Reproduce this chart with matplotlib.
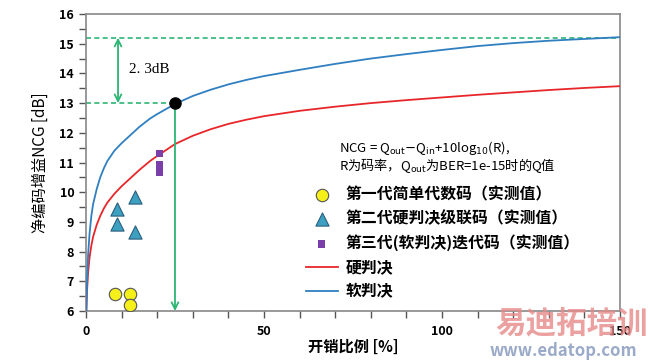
import matplotlib
matplotlib.use("Agg")
import matplotlib.pyplot as plt
from matplotlib.ticker import MultipleLocator

plt.rcParams['font.family'] = ['Noto Sans CJK SC', 'DejaVu Sans']

# curves
soft_x = [0.1, 0.3, 0.6, 1, 1.5, 2, 3, 4, 5, 6, 8, 10, 12, 15, 18, 20, 25, 30, 35, 40, 45, 50, 60, 70, 80,
          90, 100, 110, 120, 130, 140, 150]
soft_y = [6.0, 7.0, 7.9, 8.6, 9.2, 9.6, 10.1, 10.5, 10.8, 11.05, 11.4, 11.65, 11.87, 12.2, 12.48, 12.63,
          12.97, 13.24, 13.45, 13.63, 13.78, 13.91, 14.12, 14.32, 14.5, 14.65, 14.79, 14.92, 15.02, 15.1,
          15.16, 15.22]
hard_x = [0.1, 0.3, 0.6, 1, 1.5, 2, 3, 4, 5, 6, 8, 10, 12, 15, 18, 20, 25, 30, 35, 40, 45, 50, 60, 70, 80,
          90, 100, 110, 120, 130, 140, 150]
hard_y = [6.0, 6.7, 7.3, 7.8, 8.2, 8.5, 8.9, 9.2, 9.45, 9.65, 9.95, 10.2, 10.42, 10.75, 11.05, 11.22,
          11.62, 11.9, 12.12, 12.3, 12.44, 12.56, 12.74, 12.88, 13.0, 13.1, 13.19, 13.28, 13.36, 13.44,
          13.51, 13.57]

# measured codes
gen1_x = [8.1, 12.4, 12.5]
gen1_y = [6.57, 6.57, 6.2]
gen2_x = [8.8, 13.8, 8.8, 13.9]
gen2_y = [9.42, 9.85, 8.92, 8.65]
gen3_x = [20.6, 20.6, 20.6]
gen3_y = [11.31, 10.92, 10.67]

limit_y = 15.2
point_x, point_y = 25, 13.0
gain_label = "2. 3dB"

fig = plt.figure(figsize=(6.48, 3.6), dpi=100)
ax = fig.add_axes([0.1327, 0.1361, 0.8241, 0.825])

green = '#2bb673'
ax.plot(hard_x, hard_y, color='#e8262a', lw=1.3, label='硬判决', zorder=3)
ax.plot(soft_x, soft_y, color='#2f7fc1', lw=1.3, label='软判决', zorder=3)

ax.axhline(limit_y, color=green, ls=(0, (3, 2)), lw=1.2, zorder=2)
ax.plot([0, point_x], [point_y, point_y], color=green, ls=(0, (3, 2)), lw=1.2, zorder=2)
ax.annotate('', xy=(9, limit_y), xytext=(9, point_y),
            arrowprops=dict(arrowstyle='<->', color=green, lw=1.3, mutation_scale=12,
                            shrinkA=0, shrinkB=0))
ax.annotate('', xy=(point_x, 6.0), xytext=(point_x, point_y),
            arrowprops=dict(arrowstyle='->', color=green, lw=1.3, mutation_scale=12,
                            shrinkA=0, shrinkB=0))
ax.text(12, 14.12, gain_label, fontsize=11, va='center', family=['Liberation Serif', 'DejaVu Serif'])
ax.plot([point_x], [point_y], 'o', color='black', ms=8, zorder=5)

ax.scatter(gen1_x, gen1_y, marker='o', s=80, c='#f5f01a', edgecolors='#555555', lw=0.8,
           label='第一代简单代数码（实测值）', zorder=4)
ax.scatter(gen2_x, gen2_y, marker='^', s=90, c='#3ea0c0', edgecolors='#2a5f80', lw=0.8,
           label='第二代硬判决级联码（实测值）', zorder=4)
ax.scatter(gen3_x, gen3_y, marker='s', s=28, c='#7a3fa8', edgecolors='none',
           label='第三代(软判决)迭代码（实测值）', zorder=4)

ax.text(71, 11.5, 'NCG = Q$_{\\mathrm{out}}$$-$Q$_{\\mathrm{in}}$+10log$_{10}$(R),',
        fontsize=9.5, va='center')
ax.text(71, 10.9, 'R为码率，Q$_{\\mathrm{out}}$为BER=1e-15时的Q值', fontsize=9.5, va='center')

handles, labels = ax.get_legend_handles_labels()
order = [2, 3, 4, 0, 1]
ax.legend([handles[i] for i in order], [labels[i] for i in order], loc='lower left',
          bbox_to_anchor=(0.385, -0.008), frameon=False, handlelength=2.0, handletextpad=0.5,
          labelspacing=0.5, prop={'weight': 'bold', 'size': 11.4})

ax.set_xlim(0, 150)
ax.set_ylim(6, 16)
ax.xaxis.set_major_locator(MultipleLocator(50))
ax.xaxis.set_minor_locator(MultipleLocator(10))
ax.yaxis.set_major_locator(MultipleLocator(1))
ax.yaxis.set_minor_locator(MultipleLocator(0.5))
ax.tick_params(which='both', direction='out', length=5, width=1, color='#555555')
ax.tick_params(axis='x', pad=5)
ax.tick_params(labelsize=9)
for lab in ax.get_xticklabels() + ax.get_yticklabels():
    lab.set_fontweight('bold')
for sp in ax.spines.values():
    sp.set_color('#888888')
    sp.set_linewidth(1.2)

ax.set_xlabel('开销比例 [%]', fontsize=11, fontweight='bold', labelpad=1)
ax.set_ylabel('净编码增益NCG [dB]', fontsize=11, labelpad=8)

# watermark
fig.text(0.765, 0.075, '易迪拓培训', fontsize=22, color='#e88a8a', fontweight='bold', alpha=0.8)
fig.text(0.755, 0.012, 'www.edatop.com', fontsize=12, color='#9aaac8', fontweight='bold')

fig.savefig('out.png', dpi=100)
